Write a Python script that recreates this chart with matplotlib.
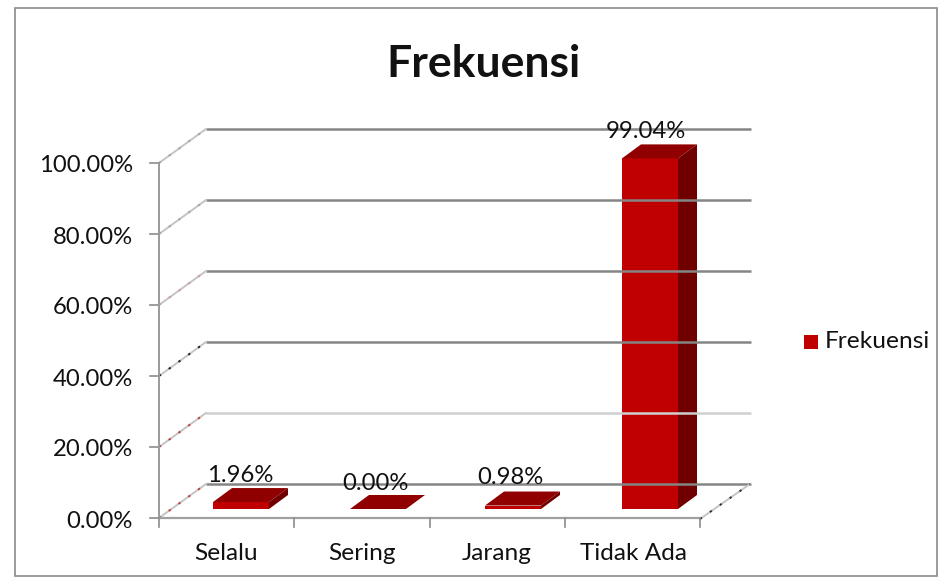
import matplotlib
matplotlib.use("Agg")
import matplotlib.pyplot as plt
from matplotlib.patches import Polygon, Rectangle

categories = ["Selalu", "Sering", "Jarang", "Tidak Ada"]
values = [1.96, 0.00, 0.98, 99.04]
labels = ["1.96%", "0.00%", "0.98%", "99.04%"]
yticks = [0, 20, 40, 60, 80, 100]
ytick_labels = ["0.00%", "20.00%", "40.00%", "60.00%", "80.00%", "100.00%"]
series_name = "Frekuensi"

plt.rcParams['font.family'] = ['Lato', 'DejaVu Sans']
W, H = 952, 585
fig = plt.figure(figsize=(W/100, H/100), dpi=100)
ax = fig.add_axes([0, 0, 1, 1])
ax.set_xlim(0, W); ax.set_ylim(H, 0); ax.axis('off')

ax.add_patch(Rectangle((15, 8), 922, 568, fc='white', ec='#8a8a8a', lw=1.2))

x0, x1 = 159, 700
dx, dy = 47, -34
y0, y100 = 518, 163
def Y(v): return y0 + (y100 - y0) * v / 100

side_dots = {0: '#c04040', 20: '#c04040', 40: '#222222', 60: '#c8a0a0', 80: '#a8a8a8', 100: '#a8a8a8'}
for v, lab in zip(yticks, ytick_labels):
    y = Y(v)
    col = '#cfcfcf' if v == 20 else '#858585'
    ax.plot([x0+dx, x1+dx+4], [y+dy, y+dy], color=col, lw=1.8, solid_capstyle='butt')
    ax.plot([x0, x0+dx], [y, y+dy], color='#c4c4c4', lw=1.4)
    ax.plot([x0, x0+dx], [y, y+dy], color=side_dots[v], lw=1.4, ls=(0, (1.2, 5)))
    ax.plot([x0-9, x0], [y, y], color='#8c8c8c', lw=1.2)
    ax.text(133, y+3, lab, ha='right', va='center', fontsize=17.2, color='#111111')
ax.plot([x0, x0], [y0, y100], color='#9a9a9a', lw=1.4)
ax.plot([x0, x1], [y0, y0], color='#a0a0a0', lw=1.6)
ax.plot([x1, x1+dx+3], [y0+1, y0+dy], color='#c4c4c4', lw=1.4)
ax.plot([x1, x1+dx+3], [y0+1, y0+dy], color='#333333', lw=1.4, ls=(0, (1.2, 5)))

n = len(categories)
step = (x1 - x0) / n
bar_left = [213, 350, 485, 622]
bw = 56
bdx, bdy = 19, -14
yb = 509
px_per_unit = 3.54
label_x = [240, 375, 510, 646]
label_y = [475, 483, 478, 131]
cat_x = [226, 362, 497, 634]
for i, (c, v, l) in enumerate(zip(categories, values, labels)):
    ax.plot([x0+i*step]*2, [y0, y0+9], color='#8c8c8c', lw=1.2)
    left = bar_left[i]
    yt = yb - px_per_unit * v
    right = left + bw
    ax.add_patch(Polygon([(left, yt), (right, yt), (right, yb), (left, yb)], fc='#c00000', ec='none'))
    ax.add_patch(Polygon([(left, yt), (right, yt), (right+bdx, yt+bdy), (left+bdx, yt+bdy)], fc='#900000', ec='none'))
    ax.add_patch(Polygon([(right, yt), (right+bdx, yt+bdy), (right+bdx, yb+bdy), (right, yb)], fc='#700000', ec='none'))
    ax.text(cat_x[i], 554, c, ha='center', va='center', fontsize=17.6, color='#111111')
    ax.text(label_x[i], label_y[i], l, ha='center', va='center', fontsize=17.2, color='#111111')
ax.plot([x1, x1], [y0, y0+9], color='#8c8c8c', lw=1.2)

ax.text(484, 64, series_name, ha='center', va='center', fontsize=32, fontweight='bold', color='#111111')
ax.add_patch(Rectangle((804, 335), 14, 14, fc='#c00000', ec='none'))
ax.text(825, 342, series_name, ha='left', va='center', fontsize=17.6, color='#111111')

fig.savefig("out.png", dpi=100)
